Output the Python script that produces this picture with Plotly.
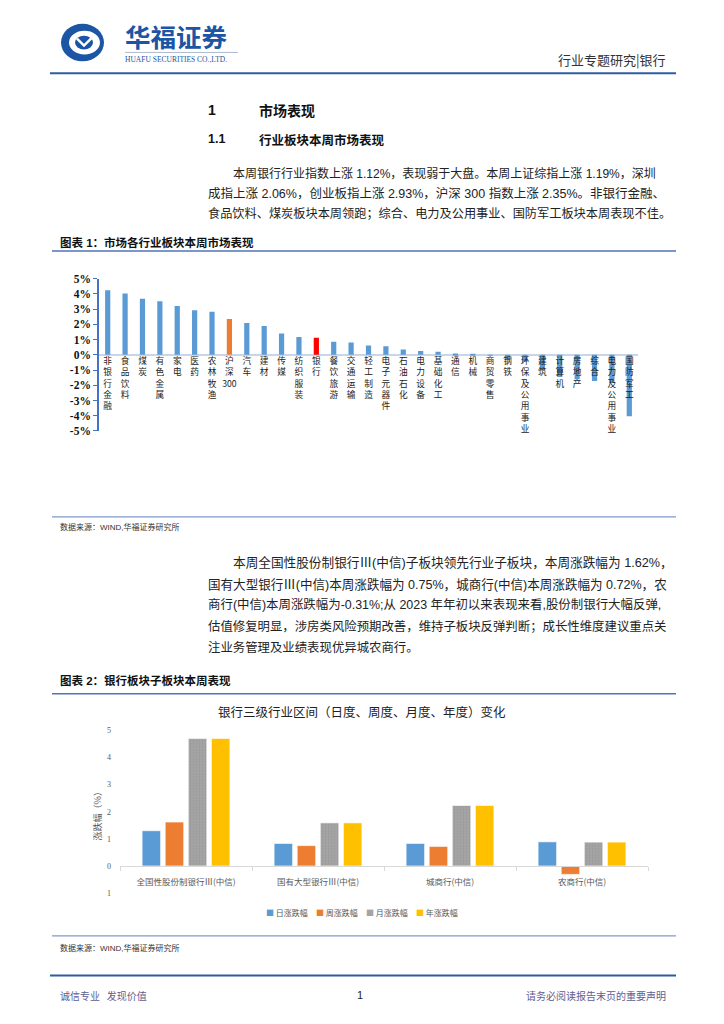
import plotly.graph_objects as go

W, H = 724, 1024


def X(px):
    return px / W


def Y(py):
    return 1 - py / H


CJK = "Noto Sans CJK SC"
FONT = "Liberation Sans, Noto Sans CJK SC"

# ---------------- Chart 1 data: weekly industry performance (%) ----------------
industries = ['非银行金融', '食品饮料', '煤炭', '有色金属', '家电', '医药', '农林牧渔', '沪深300',
              '汽车', '建材', '传媒', '纺织服装', '银行', '餐饮旅游', '交通运输', '轻工制造',
              '电子元器件', '石油石化', '电力设备', '基础化工', '通信', '机械', '商贸零售', '钢铁',
              '环保及公用事业', '建筑', '计算机', '房地产', '综合', '电力及公用事业', '国防军工']
weekly_change = [4.24, 4.04, 3.69, 3.52, 3.21, 2.93, 2.84, 2.35,
                 2.10, 1.90, 1.40, 1.18, 1.12, 0.87, 0.81, 0.61,
                 0.57, 0.35, 0.26, 0.20, 0.09, 0.07, -0.01, -0.33,
                 -0.45, -1.00, -1.45, -1.60, -1.72, -1.85, -4.03]
index_name = '沪深300'
bank_name = '银行'
y1_ticks = [5, 4, 3, 2, 1, 0, -1, -2, -3, -4, -5]
y1_ticktext = ['5%', '4%', '3%', '2%', '1%', '0%', '-1%', '-2%', '-3%', '-4%', '-5%']

# ---------------- Chart 2 data: bank sub-sectors (%) ----------------
sub_sectors = ['全国性股份制银行Ⅲ(中信)', '国有大型银行Ⅲ(中信)', '城商行(中信)', '农商行(中信)']
series_names = ['日涨跌幅', '周涨跌幅', '月涨跌幅', '年涨跌幅']
daily = [1.30, 0.83, 0.83, 0.89]
weekly = [1.62, 0.75, 0.72, -0.31]
monthly = [4.70, 1.59, 2.23, 0.88]
yearly = [4.70, 1.59, 2.23, 0.88]
y2_ticks = [-1, 0, 1, 2, 3, 4, 5]
y2_ticktext = ['1', '0', '1', '2', '3', '4', '5']

series_colors = ['#5B9BD5', '#ED7D31', '#A5A5A5', '#FFC000']

fig = go.Figure()

# Chart 1 bars
bar_colors = ['#ED7D31' if c == index_name else ('#FF0000' if c == bank_name else '#5B9BD5')
              for c in industries]
fig.add_trace(go.Bar(x=industries, y=weekly_change, marker=dict(color=bar_colors, line=dict(width=0)),
                     width=0.3, xaxis='x', yaxis='y', showlegend=False))


def vertical(label):
    if label == index_name:
        return '沪<br>深<br>300'
    return '<br>'.join(list(label))


# Chart 2 bars
for name, vals, col in zip(series_names, [daily, weekly, monthly, yearly], series_colors):
    marker = dict(color=col, line=dict(width=0.6, color='#FFFFFF'))
    if name == '月涨跌幅':
        marker['pattern'] = dict(shape='.', size=3, solidity=0.35, fgcolor='#8E8E8E')
    fig.add_trace(go.Bar(x=sub_sectors, y=vals, name=name, marker=marker,
                         xaxis='x2', yaxis='y2', showlegend=False))

annotations = []
shapes = []


def txt(x, y, s, size, color='#222222', anchor='left', family=FONT, angle=0):
    annotations.append(dict(x=X(x), y=Y(y), xref='paper', yref='paper', text=s, showarrow=False,
                            xanchor=anchor, yanchor='middle', textangle=angle,
                            font=dict(family=family, size=size, color=color)))


def hline(y, x0, x1, color, width):
    shapes.append(dict(type='line', xref='paper', yref='paper', x0=X(x0), x1=X(x1), y0=Y(y), y1=Y(y),
                       line=dict(color=color, width=width)))


# ---------------- Header ----------------
BLUE = '#1B55A3'
shapes.append(dict(type='circle', xref='paper', yref='paper', x0=X(61), x1=X(104), y0=Y(56), y1=Y(18),
                   fillcolor=BLUE, line=dict(width=0)))
shapes.append(dict(type='circle', xref='paper', yref='paper', x0=X(69), x1=X(100), y0=Y(49), y1=Y(25),
                   fillcolor='white', line=dict(width=0)))
shapes.append(dict(type='circle', xref='paper', yref='paper', x0=X(75), x1=X(93), y0=Y(44), y1=Y(30),
                   fillcolor=BLUE, line=dict(width=0)))
shapes.append(dict(type='path', xref='paper', yref='paper',
                   path='M {},{} L {},{} L {},{}'.format(X(77), Y(33), X(84), Y(40), X(93), Y(31)),
                   line=dict(color='white', width=2.5)))
txt(123, 29.5, '<b>华福证券</b>', 25.5, BLUE, family=CJK)
hline(47, 125, 238, '#9AA7BF', 0.8)
txt(123, 54.5, 'HUAFU SECURITIES CO.,LTD.', 7.5, BLUE, family='Liberation Serif')
txt(668, 54, '行业专题研究|银行', 13, '#333333', anchor='right', family=CJK)
hline(68, 50, 676, '#2F5C9F', 2)

# ---------------- Section headings and paragraph 1 ----------------
txt(206, 105, '<b>1</b>', 14, '#111111')
txt(257, 105, '<b>市场表现</b>', 14, '#111111', family=CJK)
txt(206, 135, '<b>1.1</b>', 12.5, '#111111')
txt(257, 135, '<b>行业板块本周市场表现</b>', 12.5, '#111111', family=CJK)

p1 = ['本周银行行业指数上涨 1.12%，表现弱于大盘。本周上证综指上涨 1.19%，深圳',
      '成指上涨 2.06%，创业板指上涨 2.93%，沪深 300 指数上涨 2.35%。非银行金融、',
      '食品饮料、煤炭板块本周领跑；综合、电力及公用事业、国防军工板块本周表现不佳。']
p1_y = [169, 190, 210]
p1_size = [12.0, 12.5, 12.2]
for i, (line, yy, fs) in enumerate(zip(p1, p1_y, p1_size)):
    txt(231 if i == 0 else 206, yy, line, fs, '#222222')

txt(58, 239, '<b>图表 1：市场各行业板块本周市场表现</b>', 11.5, '#111111')
hline(248, 52, 676, '#4F74B8', 1.5)

# ---------------- Source 1 + paragraph 2 ----------------
hline(517, 52, 676, '#7C9ACB', 1.2)
txt(58, 527, '数据来源：WIND,华福证券研究所', 8, '#333333')

p2 = ['本周全国性股份制银行Ⅲ(中信)子板块领先行业子板块，本周涨跌幅为 1.62%，',
      '国有大型银行Ⅲ(中信)本周涨跌幅为 0.75%，城商行(中信)本周涨跌幅为 0.72%，农',
      '商行(中信)本周涨跌幅为-0.31%;从 2023 年年初以来表现来看,股份制银行大幅反弹,',
      '估值修复明显，涉房类风险预期改善，维持子板块反弹判断；成长性维度建议重点关',
      '注业务管理及业绩表现优异城农商行。']
p2_y = [563, 585, 606, 628, 649]
p2_size = [12.65, 12.55, 12.45, 12.4, 12.4]
for i, (line, yy, fs) in enumerate(zip(p2, p2_y, p2_size)):
    txt(231 if i == 0 else 206, yy, line, fs, '#222222')

txt(58, 683, '<b>图表 2：银行板块子板块本周表现</b>', 11.5, '#111111')
hline(696, 52, 676, '#4F74B8', 1.5)

# ---------------- Chart 2 decorations ----------------
txt(362, 714, '银行三级行业区间（日度、周度、月度、年度）变化', 12.5, '#222222', anchor='center', family=CJK)
txt(97, 818, '涨跌幅（%）', 9, '#595959', anchor='center', family=CJK, angle=-90)
legend_x = [264, 314, 364, 414]
for name, col, lx in zip(series_names, series_colors, legend_x):
    txt(lx, 917, '<span style="color:{}">■</span> {}'.format(col, name), 8, '#595959', family=CJK)

hline(941, 52, 676, '#7C9ACB', 1.2)
txt(58, 953, '数据来源：WIND,华福证券研究所', 8, '#333333')

# ---------------- Footer ----------------
hline(981, 50, 676, '#2F5C9F', 2)
txt(58, 1001, '诚信专业   发现价值', 10, '#5E5E8E', family=CJK)
txt(360, 1001, '1', 11, '#222222', anchor='center')
txt(668, 1001, '请务必阅读报告末页的重要声明', 10, '#5E5E8E', anchor='right', family=CJK)

fig.update_layout(
    width=W, height=H, margin=dict(l=0, r=0, t=0, b=0),
    paper_bgcolor='white', plot_bgcolor='white', showlegend=False,
    barmode='group', bargap=0.3, bargroupgap=0.2,
    annotations=annotations, shapes=shapes,
    xaxis=dict(domain=[X(99), X(638)], range=[-0.5, 30.5], anchor='free', position=Y(352.5),
               tickmode='array', tickvals=industries, ticktext=[vertical(c) for c in industries],
               showline=False, ticks='', showgrid=False, zeroline=False,
               tickfont=dict(family=CJK, size=8.7, color='#222222'), fixedrange=True),
    yaxis=dict(domain=[Y(430), Y(276)], range=[-5, 5], anchor='x', tickmode='array', tickvals=y1_ticks,
               ticktext=['<b>{}</b>'.format(t) for t in y1_ticktext],
               showline=True, linecolor='#4472C4', linewidth=1.5,
               ticks='outside', ticklen=4, tickcolor='#4472C4', showgrid=False,
               zeroline=True, zerolinecolor='#C8D6EB', zerolinewidth=2,
               tickfont=dict(family='Liberation Serif', size=11.5, color='#111111', weight='bold'),
               fixedrange=True),
    xaxis2=dict(domain=[X(120), X(648)], anchor='free', position=Y(870.2),
                showline=True, linecolor='#D9D9D9', linewidth=1, ticks='outside', ticklen=4,
                tickcolor='#D9D9D9', tickson='boundaries', showgrid=False, zeroline=False,
                ticklabelstandoff=8,
                tickfont=dict(family=CJK, size=8.5, color='#595959'), fixedrange=True),
    yaxis2=dict(domain=[Y(897.6), Y(733)], range=[-1, 5], anchor='x2', tickmode='array',
                tickvals=y2_ticks, ticktext=y2_ticktext, showline=False, showgrid=False,
                zeroline=False, ticks='', ticklabelstandoff=8,
                tickfont=dict(family='Liberation Serif', size=8, color='#595959'), fixedrange=True),
)

fig.write_html("out.html", config={'displayModeBar': False},
               post_script="document.body.style.margin='0';document.body.style.overflow='hidden';")
